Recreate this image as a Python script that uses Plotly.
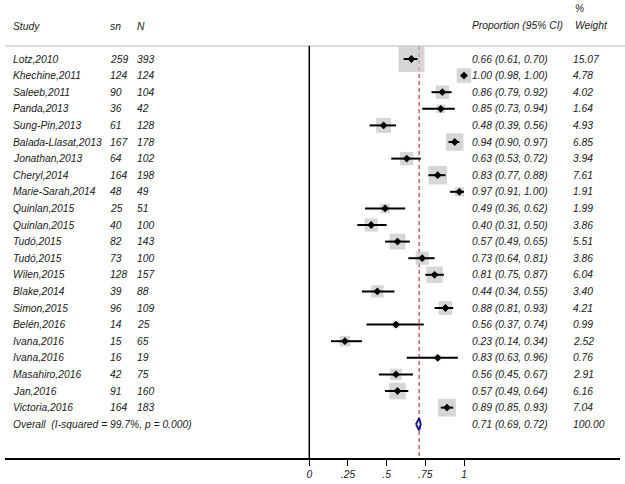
import math
import plotly.graph_objects as go

studies = ["Lotz,2010", "Khechine,2011", "Saleeb,2011", "Panda,2013", "Sung-Pin,2013",
           "Balada-Llasat,2013", "Jonathan,2013", "Cheryl,2014", "Marie-Sarah,2014",
           "Quinlan,2015", "Quinlan,2015", "Tudó,2015", "Tudó,2015", "Wilen,2015",
           "Blake,2014", "Simon,2015", "Belén,2016", "Ivana,2016", "Ivana,2016",
           "Masahiro,2016", "Jan,2016", "Victoria,2016"]
sn = [259, 124, 90, 36, 61, 167, 64, 164, 48, 25, 40, 82, 73, 128, 39, 96, 14, 15, 16, 42, 91, 164]
n_total = [393, 124, 104, 42, 128, 178, 102, 198, 49, 51, 100, 143, 100, 157, 88, 109, 25, 65, 19, 75, 160, 183]
prop = [0.66, 1.00, 0.86, 0.85, 0.48, 0.94, 0.63, 0.83, 0.97, 0.49, 0.40, 0.57, 0.73, 0.81,
        0.44, 0.88, 0.56, 0.23, 0.83, 0.56, 0.57, 0.89]
lo = [0.61, 0.98, 0.79, 0.73, 0.39, 0.90, 0.53, 0.77, 0.91, 0.36, 0.31, 0.49, 0.64, 0.75,
      0.34, 0.81, 0.37, 0.14, 0.63, 0.45, 0.49, 0.85]
hi = [0.70, 1.00, 0.92, 0.94, 0.56, 0.97, 0.72, 0.88, 1.00, 0.62, 0.50, 0.65, 0.81, 0.87,
      0.55, 0.93, 0.74, 0.34, 0.96, 0.67, 0.64, 0.93]
weight = [15.07, 4.78, 4.02, 1.64, 4.93, 6.85, 3.94, 7.61, 1.91, 1.99, 3.86, 5.51, 3.86, 6.04,
          3.40, 4.21, 0.99, 2.52, 0.76, 2.91, 6.16, 7.04]
overall_label = "Overall  (I-squared = 99.7%, p = 0.000)"
overall_est, overall_lo, overall_hi, overall_w = 0.71, 0.69, 0.72, 100.00
tick_vals = [0, 0.25, 0.5, 0.75, 1]
tick_text = ["0", ".25", ".5", ".75", "1"]

W, H = 625, 484
ROW0, ROW_H = 59.0, 16.6
PLOT_BOTTOM = 458.0
X0_PX, UNIT_PX = 309.3, 154.7
DOM_L, DOM_R = 5.0, 620.0

def row_y(px):
    return (px - ROW0) / ROW_H

y_top = row_y(0)
y_bot = row_y(PLOT_BOTTOM)
y_header_line = row_y(46)

rows = list(range(len(studies)))
overall_row = len(studies)

font_fam = "Liberation Sans, Arial, sans-serif"
txt_col = "#1a1a1a"
fs = 10.3

fig = go.Figure()

# weight squares
fig.add_trace(go.Scatter(
    x=prop, y=rows, mode="markers",
    marker=dict(symbol="square", size=[6.7 * math.sqrt(w) for w in weight],
                color="#c4c4c4", line=dict(width=0)),
    hoverinfo="skip", showlegend=False))

# CI lines + point estimates
fig.add_trace(go.Scatter(
    x=prop, y=rows, mode="markers",
    marker=dict(symbol="diamond", size=6, color="black"),
    error_x=dict(type="data", symmetric=False,
                 array=[h - p for h, p in zip(hi, prop)],
                 arrayminus=[p - l for p, l in zip(prop, lo)],
                 thickness=2, width=0, color="black"),
    showlegend=False))

# overall diamond
dh = 0.36
fig.add_trace(go.Scatter(
    x=[overall_lo, overall_est, overall_hi, overall_est, overall_lo],
    y=[overall_row, overall_row - dh, overall_row, overall_row + dh, overall_row],
    mode="lines", line=dict(color="#1a1a8c", width=2), fill="toself",
    fillcolor="white", showlegend=False, hoverinfo="skip"))

shapes = [
    dict(type="line", xref="paper", yref="y", x0=DOM_L / W, x1=1, y0=y_header_line,
         y1=y_header_line, line=dict(color="#dcdcdc", width=2), layer="below"),
    dict(type="line", xref="x", yref="y", x0=0, x1=0, y0=y_header_line, y1=y_bot,
         line=dict(color="black", width=1.5)),
    dict(type="line", xref="x", yref="y", x0=overall_est, x1=overall_est,
         y0=y_header_line, y1=y_bot,
         line=dict(color="#c8383d", width=1.2, dash="4px,3px"), layer="below"),
]

ann = []
def add_text(px, y, text):
    ann.append(dict(x=px / W, y=y, xref="paper", yref="y", text=text, showarrow=False,
                    xanchor="left", yanchor="middle",
                    font=dict(family=font_fam, size=fs, color=txt_col, style="italic")))

# headers
add_text(11, row_y(26), "Study")
add_text(108, row_y(26), "sn")
add_text(135, row_y(26), "N")
add_text(470, row_y(25), "Proportion (95% CI)")
add_text(573, row_y(8.5), "%")
add_text(573, row_y(25), "Weight")

for i, s in enumerate(studies):
    add_text(11, i, s)
    add_text(108, i, str(sn[i]))
    add_text(135, i, str(n_total[i]))
    add_text(470, i, f"{prop[i]:.2f} ({lo[i]:.2f}, {hi[i]:.2f})")
    add_text(571, i, f"{weight[i]:.2f}")

add_text(11, overall_row, overall_label)
add_text(470, overall_row, f"{overall_est:.2f} ({overall_lo:.2f}, {overall_hi:.2f})")
add_text(571, overall_row, f"{overall_w:.2f}")

fig.update_layout(
    width=W, height=H,
    margin=dict(l=0, r=0, t=0, b=H - PLOT_BOTTOM, pad=0),
    paper_bgcolor="white", plot_bgcolor="white",
    shapes=shapes, annotations=ann, showlegend=False,
    xaxis=dict(domain=[DOM_L / W, DOM_R / W],
               range=[(DOM_L - X0_PX) / UNIT_PX, (DOM_R - X0_PX) / UNIT_PX],
               tickvals=tick_vals, ticktext=tick_text, ticks="outside", ticklen=6,
               tickwidth=1.2, tickcolor="black", showline=True, linecolor="black",
               linewidth=1.5, showgrid=False, zeroline=False, fixedrange=True,
               tickfont=dict(family=font_fam, size=fs, color=txt_col, style="italic")),
    yaxis=dict(range=[y_bot, y_top], visible=False, fixedrange=True),
)

fig.write_html("out.html", config={"displayModeBar": False},
               post_script="document.body.style.margin='0';document.body.style.overflow='hidden';")
